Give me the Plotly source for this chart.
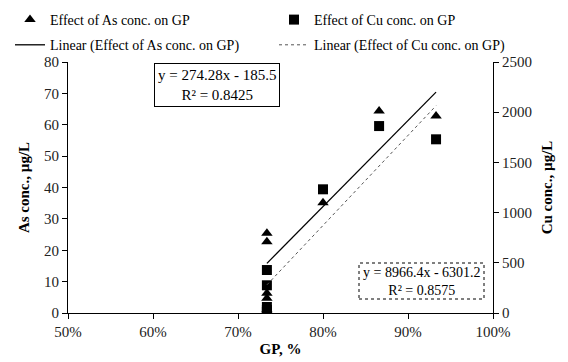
import plotly.graph_objects as go

# Data
gp = [0.734, 0.734, 0.734, 0.734, 0.734, 0.800, 0.866, 0.933]
as_conc = [25.4, 22.7, 6.3, 4.7, 1.0, 35.1, 64.4, 62.8]
cu_conc = [428, 276, 60, 30, 10, 1232, 1862, 1730]

# Trendline coefficients as printed on the chart
as_fit = (274.28, -185.5, 0.8425)
cu_fit = (8966.4, -6301.2, 0.8575)

x_ticks = [0.5, 0.6, 0.7, 0.8, 0.9, 1.0]
as_ticks = [0, 10, 20, 30, 40, 50, 60, 70, 80]
cu_ticks = [0, 500, 1000, 1500, 2000, 2500]

FONT = "Liberation Serif"

xmin, xmax = min(gp), max(gp)
trend_x = [xmin, xmax]
as_line = [as_fit[0] * v + as_fit[1] for v in trend_x]
cu_line = [cu_fit[0] * v + cu_fit[1] for v in trend_x]

fig = go.Figure()
fig.add_trace(go.Scatter(x=gp, y=as_conc, mode="markers", name="Effect of As conc. on GP",
                         marker=dict(symbol="triangle-up", size=10, color="black"), yaxis="y",
                         legend="legend", legendgroup="a1"))
fig.add_trace(go.Scatter(x=gp, y=cu_conc, mode="markers", name="Effect of Cu conc. on GP",
                         marker=dict(symbol="square", size=10, color="black"), yaxis="y2",
                         legend="legend2", legendgroup="b1"))
fig.add_trace(go.Scatter(x=trend_x, y=as_line, mode="lines", name="Linear (Effect of As conc. on GP)",
                         line=dict(color="black", width=1.3), yaxis="y",
                         legend="legend", legendgroup="a2"))
fig.add_trace(go.Scatter(x=trend_x, y=cu_line, mode="lines", name="Linear (Effect of Cu conc. on GP)",
                         line=dict(color="#555555", width=1, dash="dot"), yaxis="y2",
                         legend="legend2", legendgroup="b2"))

axis_common = dict(showline=True, linecolor="black", linewidth=1, ticks="outside", ticklen=5,
                   tickcolor="black", showgrid=False, zeroline=False,
                   tickfont=dict(family=FONT, size=15, color="#222"))

legend_common = dict(orientation="v", xanchor="left", yanchor="top", itemwidth=30,
                     tracegroupgap=4, font=dict(family=FONT, size=14, color="black"),
                     bgcolor="rgba(0,0,0,0)")

fig.update_layout(
    width=568, height=362,
    margin=dict(l=68, r=75, t=62, b=49, autoexpand=False),
    paper_bgcolor="white", plot_bgcolor="white",
    font=dict(family=FONT, size=15, color="black"),
    xaxis=dict(range=[0.5, 1.0], tickvals=x_ticks, tickformat=".0%",
               title=dict(text="<b>GP, %</b>", font=dict(family=FONT, size=15), standoff=4),
               **axis_common),
    yaxis=dict(range=[0, 80], tickvals=as_ticks,
               title=dict(text="<b>As conc., µg/L</b>", font=dict(family=FONT, size=15), standoff=10),
               **axis_common),
    yaxis2=dict(range=[0, 2500], tickvals=cu_ticks, overlaying="y", side="right",
                title=dict(text="<b>Cu conc., µg/L</b>", font=dict(family=FONT, size=15), standoff=10),
                **axis_common),
    legend=dict(x=(10 - 68) / 425, y=(313 - 4) / 251, **legend_common),
    legend2=dict(x=(274 - 68) / 425, y=(313 - 4) / 251, **legend_common),
    showlegend=True,
)

fig.add_annotation(xref="paper", yref="paper", x=(217 - 68) / 425, y=(313 - 84.5) / 251,
                   xanchor="center", yanchor="middle",
                   text=f"y = {as_fit[0]}x - {abs(as_fit[1])}<br>R² = {as_fit[2]}",
                   showarrow=False, align="center", bordercolor="black", borderwidth=1,
                   borderpad=3, bgcolor="white", font=dict(family=FONT, size=15))

fig.add_shape(type="rect", xref="paper", yref="paper", x0=(359 - 68) / 425, x1=(484 - 68) / 425,
              y0=(313 - 299) / 251, y1=(313 - 263) / 251,
              line=dict(color="black", width=1, dash="dot"), fillcolor="white", layer="above")
fig.add_annotation(xref="paper", yref="paper", x=(421.5 - 68) / 425, y=(313 - 281) / 251,
                   xanchor="center", yanchor="middle",
                   text=f"y = {cu_fit[0]}x - {abs(cu_fit[1])}<br>R² = {cu_fit[2]}",
                   showarrow=False, align="center", font=dict(family=FONT, size=14))

fig.write_html("out.html", config={"displayModeBar": False},
               post_script="document.body.style.margin='0';")
